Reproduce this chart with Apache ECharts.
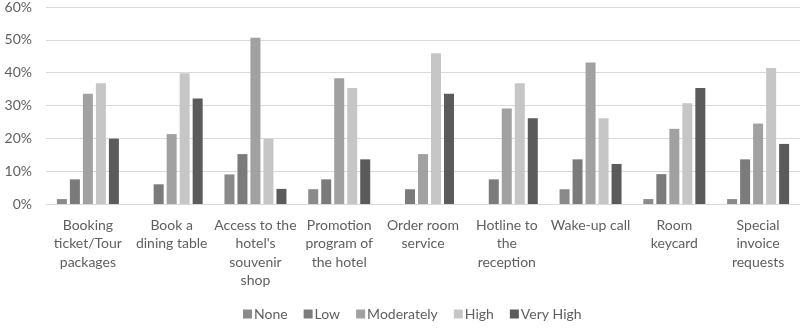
<!DOCTYPE html>
<html>
<head>
<meta charset="utf-8">
<script src="https://cdn.jsdelivr.net/npm/echarts@6/dist/echarts.min.js"></script>
<style>
  html, body { margin: 0; padding: 0; background: #ffffff; }
  #chart { width: 800px; height: 329px; }
</style>
</head>
<body>
<div id="chart"></div>
<script>
// Hotel service items (x-axis categories)
const categories = [
  'Booking\nticket/Tour\npackages',
  'Book a\ndining table',
  'Access to the\nhotel\'s\nsouvenir\nshop',
  'Promotion\nprogram of\nthe hotel',
  'Order room\nservice',
  'Hotline to\nthe\nreception',
  'Wake-up call',
  'Room\nkeycard',
  'Special\ninvoice\nrequests'
];

// Share of respondents (%) per rating level
const none       = [1.5, 0,    9.0,  4.5,  0,    0,    4.5,  1.5,  1.5];
const low        = [7.5, 6.0,  15.2, 7.5,  4.5,  7.5,  13.6, 9.1,  13.6];
const moderately = [33.6, 21.3, 50.6, 38.3, 15.2, 29.1, 43.1, 22.9, 24.5];
const high       = [36.8, 39.8, 19.9, 35.3, 45.9, 36.8, 26.1, 30.7, 41.4];
const veryHigh   = [19.9, 32.1, 4.6,  13.6, 33.6, 26.1, 12.2, 35.3, 18.3];

// y-axis ticks
const yTicks = [0, 10, 20, 30, 40, 50, 60];

const seriesDefs = [
  { name: 'None',       data: none,       color: '#8a8a8a' },
  { name: 'Low',        data: low,        color: '#7b7b7b' },
  { name: 'Moderately', data: moderately, color: '#a1a1a1' },
  { name: 'High',       data: high,       color: '#c6c6c6' },
  { name: 'Very High',  data: veryHigh,   color: '#5b5b5b' }
];

const textColor = '#5f5f5f';
const fontFamily = 'Lato, "Open Sans", sans-serif';

const chart = echarts.init(document.getElementById('chart'), null, { renderer: 'canvas' });

chart.setOption({
  animation: false,
  backgroundColor: '#ffffff',
  grid: { left: 46, right: -9, top: 7, bottom: 125 },
  legend: {
    bottom: 3,
    left: 238,
    itemWidth: 9,
    itemHeight: 9,
    itemGap: 16,
    icon: 'rect',
    textStyle: { color: textColor, fontSize: 14, fontFamily: fontFamily, padding: [0, 0, 0, -3] },
    data: seriesDefs.map(s => s.name)
  },
  xAxis: {
    type: 'category',
    data: categories,
    axisLine: { show: true, lineStyle: { color: '#d9d9d9', width: 1 } },
    axisTick: { show: false },
    axisLabel: {
      interval: 0,
      color: textColor,
      fontSize: 14,
      fontFamily: fontFamily,
      lineHeight: 18.5,
      margin: 12
    }
  },
  yAxis: {
    type: 'value',
    min: yTicks[0],
    max: yTicks[yTicks.length - 1],
    interval: 10,
    axisLine: { show: false },
    axisTick: { show: false },
    splitLine: { lineStyle: { color: '#d9d9d9', width: 1 } },
    axisLabel: {
      color: textColor,
      fontSize: 14,
      fontFamily: fontFamily,
      margin: 14,
      formatter: v => v + '%'
    }
  },
  series: seriesDefs.map(s => ({
    name: s.name,
    type: 'bar',
    data: s.data,
    barWidth: 10,
    barGap: '30%',
    itemStyle: { color: s.color }
  }))
});
</script>
</body>
</html>
